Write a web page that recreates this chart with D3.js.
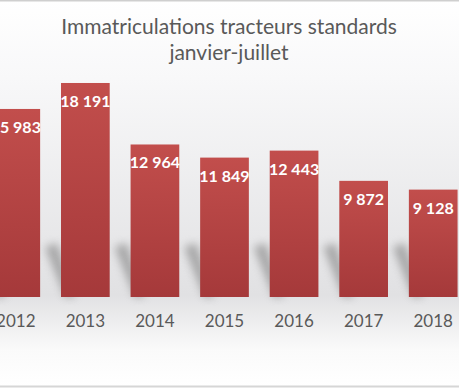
<!DOCTYPE html>
<html>
<head>
<meta charset="utf-8">
<script src="https://cdn.jsdelivr.net/npm/d3@7"></script>
<style>
  body { margin: 0; padding: 0; background: #ffffff; }
  svg { display: block; }
</style>
</head>
<body>
<div id="chart"></div>
<script>
var years = ['2012', '2013', '2014', '2015', '2016', '2017', '2018'];
var registrations = [15983, 18191, 12964, 11849, 12443, 9872, 9128];
var titleLines = ['Immatriculations tracteurs standards', 'janvier-juillet'];

var width = 459;
var height = 388;

var svg = d3.select('#chart')
    .append('svg')
    .attr('width', width)
    .attr('height', height);

var defs = svg.append('defs');

// background: white at top, grey behind the bar feet, white again below
var bg = defs.append('linearGradient')
    .attr('id', 'bg')
    .attr('x1', 0).attr('y1', 0).attr('x2', 0).attr('y2', 1);
bg.append('stop').attr('offset', '0%').attr('stop-color', '#ffffff');
bg.append('stop').attr('offset', '20%').attr('stop-color', '#f8f8f9');
bg.append('stop').attr('offset', '76%').attr('stop-color', '#e1e1e3');
bg.append('stop').attr('offset', '90%').attr('stop-color', '#fafafa');
bg.append('stop').attr('offset', '100%').attr('stop-color', '#ffffff');

var barGrad = defs.append('linearGradient')
    .attr('id', 'barGrad')
    .attr('x1', 0).attr('y1', 0).attr('x2', 0).attr('y2', 1);
barGrad.append('stop').attr('offset', '0%').attr('stop-color', '#c24e4c');
barGrad.append('stop').attr('offset', '100%').attr('stop-color', '#a5393a');

defs.append('filter')
    .attr('id', 'blur')
    .attr('x', '-50%').attr('y', '-50%').attr('width', '200%').attr('height', '200%')
    .append('feGaussianBlur')
    .attr('stdDeviation', 4);

svg.append('rect')
    .attr('width', width)
    .attr('height', height)
    .attr('fill', 'url(#bg)');

// frame lines top and bottom
svg.append('line')
    .attr('x1', 0).attr('x2', width).attr('y1', 0.5).attr('y2', 0.5)
    .attr('stroke', '#cfcfcf').attr('stroke-width', 2);
svg.append('line')
    .attr('x1', 0).attr('x2', width).attr('y1', 386.5).attr('y2', 386.5)
    .attr('stroke', '#d6d6d6').attr('stroke-width', 2);

// scales
var x = d3.scaleBand()
    .domain(years)
    .range([-19, 468])
    .paddingInner(0.3)
    .paddingOuter(0.15);

var y = d3.scaleLinear()
    .domain([0, 20000])
    .range([297, 61.7]);

// title
svg.append('g')
    .selectAll('text')
    .data(titleLines)
    .enter()
    .append('text')
    .attr('x', 229)
    .attr('y', function(d, i) { return 34 + i * 26; })
    .attr('text-anchor', 'middle')
    .style('font-family', 'Lato, "Open Sans", sans-serif')
    .style('font-size', '21px')
    .style('fill', '#595959')
    .text(function(d) { return d; });

// shadows behind bars
svg.append('g')
    .selectAll('path')
    .data(years)
    .enter()
    .append('path')
    .attr('d', function(d) {
        var x0 = x(d);
        var b = y(0);
        return 'M' + (x0 + 4) + ',' + b +
            'L' + (x0 - 16) + ',' + (b - 50) +
            'L' + (x0 - 4) + ',' + (b - 54) +
            'L' + (x0 + 14) + ',' + b + 'Z';
    })
    .attr('fill', '#7d7d7d')
    .attr('opacity', 0.6)
    .attr('filter', 'url(#blur)');

// bars
var bars = svg.append('g')
    .selectAll('g')
    .data(years)
    .enter()
    .append('g');

bars.append('rect')
    .attr('x', function(d) { return x(d); })
    .attr('y', function(d, i) { return y(registrations[i]); })
    .attr('width', x.bandwidth())
    .attr('height', function(d, i) { return y(0) - y(registrations[i]); })
    .attr('fill', 'url(#barGrad)');

// value labels inside bar tops
bars.append('text')
    .attr('x', function(d) { return x(d) + x.bandwidth() / 2; })
    .attr('y', function(d, i) { return y(registrations[i]) + 24; })
    .attr('text-anchor', 'middle')
    .style('font-family', 'Lato, "Open Sans", sans-serif')
    .style('font-weight', 'bold')
    .style('font-size', '16px')
    .style('fill', '#ffffff')
    .text(function(d, i) { return d3.format(',')(registrations[i]).replace(',', ' '); });

// year axis
var xAxis = svg.append('g')
    .attr('transform', 'translate(0,' + y(0) + ')')
    .call(d3.axisBottom(x).tickSize(0).tickPadding(18));
xAxis.select('.domain').remove();
xAxis.selectAll('text')
    .style('font-family', 'Lato, "Open Sans", sans-serif')
    .style('font-size', '17px')
    .style('fill', '#595959');
</script>
</body>
</html>
